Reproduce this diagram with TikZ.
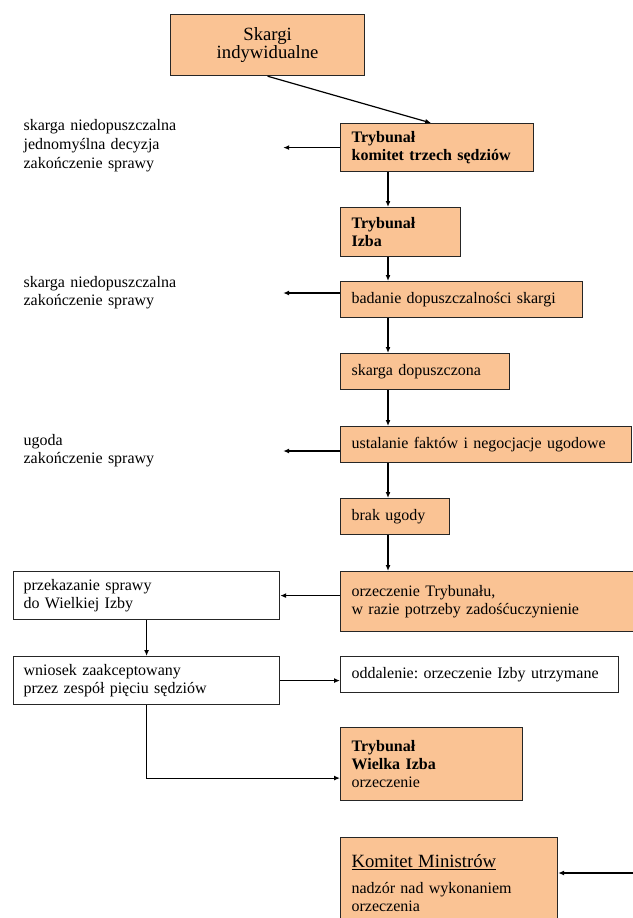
\documentclass[tikz,border=0pt]{standalone}
\usepackage{fontspec}
\setmainfont{Liberation Serif}
\usetikzlibrary{arrows.meta}

\definecolor{boxorange}{RGB}{250,195,148}

\tikzset{
  ebox/.style={draw=black!85, line width=1.2pt, fill=boxorange, anchor=north west,
    align=left, inner xsep=11pt, inner ysep=0pt},
  wbox/.style={ebox, fill=white},
  side/.style={anchor=west, align=left, inner sep=0pt, text width=259pt},
}

\begin{document}
\frenchspacing
\begin{tikzpicture}[x=1pt, y=-1pt, line width=1.2pt, >={Latex[length=6pt,width=5pt]},
    font=\fontsize{16}{18}\selectfont]
          \useasboundingbox[fill=white] (0,0) rectangle (632,918);
          \coordinate (spine) at (388,0);
          \coordinate (kin) at (640,873);

          % main column
          \node[ebox, align=center, text width=172pt, minimum height=61pt] (A) at (170,14)
            {\fontsize{18.7}{21}\selectfont Skargi\\ indywidualne};
          \node[ebox, text width=171pt, minimum height=48pt] (B) at (340,123)
            {\textbf{Trybunał}\\ \textbf{komitet trzech sędziów}};
          \node[ebox, text width=98pt, minimum height=49pt] (C) at (340,207)
            {\textbf{Trybunał}\\ \textbf{Izba}};
          \node[ebox, text width=220pt, minimum height=36pt] (D) at (340,281) {badanie dopuszczalności skargi};
          \node[ebox, text width=147pt, minimum height=36pt] (E) at (340,353) {skarga dopuszczona};
          \node[ebox, text width=269pt, minimum height=36pt] (F) at (340,426) {ustalanie faktów i negocjacje ugodowe};
          \node[ebox, text width=87pt, minimum height=36pt] (G) at (340,498) {brak ugody};
          \node[ebox, text width=288pt, minimum height=60pt] (H) at (340,571)
            {orzeczenie Trybunału,\\ w razie potrzeby zadośćuczynienie};
          \node[wbox, text width=256pt, minimum height=36pt] (O) at (340,656) {oddalenie: orzeczenie Izby utrzymane};
          \node[ebox, text width=160pt, minimum height=73pt] (V) at (340,727)
            {\textbf{Trybunał}\\ \textbf{Wielka Izba}\\ orzeczenie};
          \node[ebox, text width=195pt, minimum height=91pt] (K) at (340,837)
            {{\fontsize{18.7}{21}\selectfont\underline{Komitet Ministrów}}\\[8pt]
             nadzór nad wykonaniem\\ orzeczenia};

          % left column
          \node[side, font=\fontsize{16}{19}\selectfont] (lt1) at (23,146)
            {skarga niedopuszczalna\\ jednomyślna decyzja\\ zakończenie sprawy};
          \node[side] (lt2) at (23,293) {skarga niedopuszczalna\\ zakończenie sprawy};
          \node[side] (lt3) at (23,451) {ugoda\\ zakończenie sprawy};
          \node[wbox, text width=246pt, minimum height=48pt, inner xsep=10pt] (P) at (13,571)
            {przekazanie sprawy\\ do Wielkiej Izby};
          \node[wbox, text width=246pt, minimum height=48pt, inner xsep=10pt] (W) at (13,656)
            {wniosek zaakceptowany\\ przez zespół pięciu sędziów};

          \draw[->] (A.south) -- ([xshift=-6pt]B.north);
          \draw[->] (B.west) -- (B.west -| lt1.east);
          \draw[->] (B.south -| spine) -- (C.north -| spine);
          \draw[->] (C.south -| spine) -- (D.north -| spine);
          \draw[->] (D.west |- lt2.east) -- (lt2.east);
          \draw[->] (D.south -| spine) -- (E.north -| spine);
          \draw[->] (E.south -| spine) -- (F.north -| spine);
          \draw[->] (F.west |- lt3.east) -- (lt3.east);
          \draw[->] (F.south -| spine) -- (G.north -| spine);
          \draw[->] (G.south -| spine) -- (H.north -| spine);
          \draw[->] (H.west |- P.east) -- (P.east);
          \draw[->] (P.south) -- (W.north);
          \draw[->] (W.east) -- (W.east -| O.west);
          \draw[->] (W.south) |- ([yshift=-14pt]V.west);
          \draw[->] (kin) -- (kin -| K.east);
        \end{tikzpicture}
\end{document}
